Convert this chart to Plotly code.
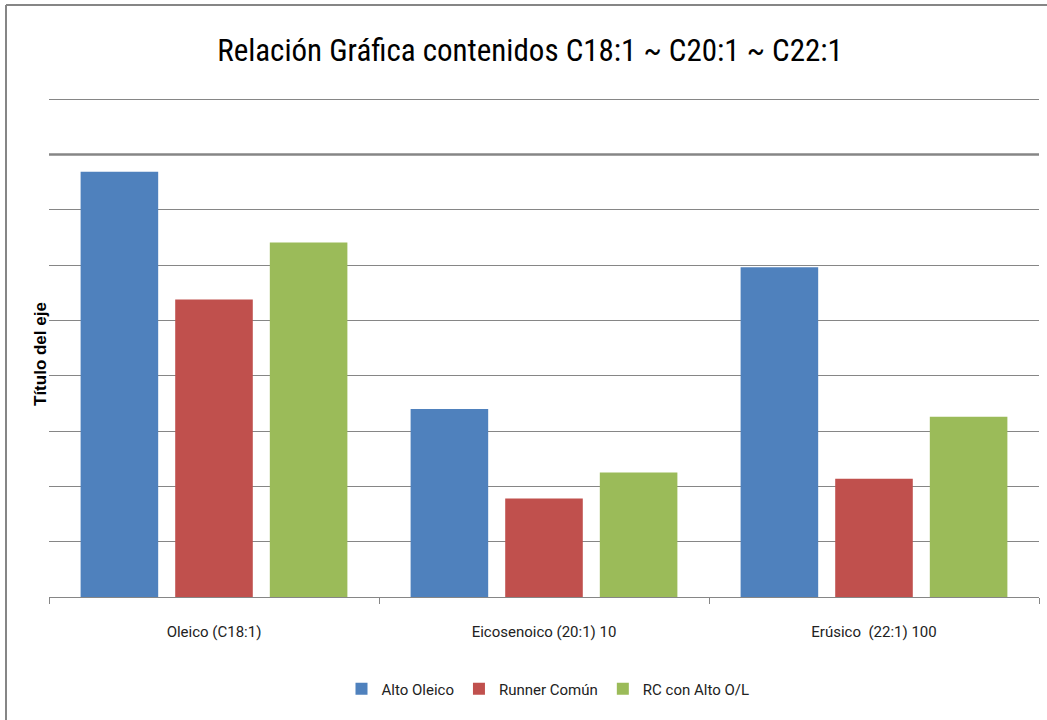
import plotly.graph_objects as go

categories = ["Oleico (C18:1)", "Eicosenoico (20:1) 10", "Erúsico  (22:1) 100"]
alto_oleico = [76.9, 34.0, 59.6]
runner_comun = [53.8, 17.8, 21.4]
rc_alto_ol = [64.1, 22.5, 32.6]

series = [
    ("Alto Oleico", alto_oleico, "#4F81BD"),
    ("Runner Común", runner_comun, "#C0504D"),
    ("RC con Alto O/L", rc_alto_ol, "#9BBB59"),
]

W, H = 1047, 720
OFF = 0  # body margin removed via post_script
SX0, SX1, SY0, SY1 = 49, 1039, 97, 597
L = SX0 - OFF
R = W - (SX1 - OFF)
T = SY0 - OFF
B = H - (SY1 - OFF)
pw, ph = W - L - R, H - T - B

def px(sx):
    return (sx - OFF - L) / pw

def py(sy):
    return (H - B - (sy - OFF)) / ph

font_title = "Roboto Condensed, Liberation Sans Narrow, Arial Narrow, sans-serif"
font_main = "Roboto, Open Sans, sans-serif"

fig = go.Figure()
for name, vals, col in series:
    fig.add_trace(go.Bar(name=name, x=categories, y=vals, marker_color=col,
                         marker_line_width=0))

fig.update_layout(
    width=W, height=H,
    margin=dict(l=L, r=R, t=T, b=B, autoexpand=False),
    paper_bgcolor="white", plot_bgcolor="white",
    barmode="group", bargap=0.14, bargroupgap=0.18,
    title=dict(text="Relación Gráfica contenidos C18:1 ~ C20:1 ~ C22:1",
               x=(530 - OFF) / W, xanchor="center", y=1 - (50 - OFF) / H, yanchor="middle",
               yref="container",
               font=dict(family=font_title, size=31, color="#000")),
    showlegend=True,
    legend=dict(orientation="h", x=px(548), xanchor="center", y=py(689), yanchor="middle",
                font=dict(family=font_main, size=15, color="#222"),
                itemwidth=30, traceorder="normal"),
    xaxis=dict(showline=True, linecolor="#868686", linewidth=1,
               ticks="outside", tickson="boundaries", ticklen=6, tickcolor="#868686",
               tickfont=dict(family=font_main, size=15, color="#222"),
               ticklabelstandoff=21,
               showgrid=False),
    yaxis=dict(range=[0, 90.4], dtick=10, showticklabels=False, showgrid=True,
               gridcolor="#868686", gridwidth=1, zeroline=False, showline=False),
)

fig.add_annotation(text="<b>Título del eje</b>", textangle=-90, x=px(40), y=py(354),
                   xref="paper", yref="paper", showarrow=False,
                   xanchor="center", yanchor="middle",
                   font=dict(family="Liberation Sans, Arial, sans-serif", size=17, color="#000"))

# thicker gridline at 80
fig.add_shape(type="line", xref="paper", yref="y", x0=0, x1=1, y0=80, y1=80,
              line=dict(color="#868686", width=2.5), layer="below")

# chart border (top and left visible)
fig.add_shape(type="line", xref="paper", yref="paper", x0=px(6), x1=px(W + 20),
              y0=py(5), y1=py(5), line=dict(color="#868686", width=2))
fig.add_shape(type="line", xref="paper", yref="paper", x0=px(6), x1=px(6),
              y0=py(5), y1=py(H + 20), line=dict(color="#868686", width=2))

fig.write_html("out.html", config={"displayModeBar": False},
               post_script="document.body.style.margin='0';document.body.style.padding='0';")
